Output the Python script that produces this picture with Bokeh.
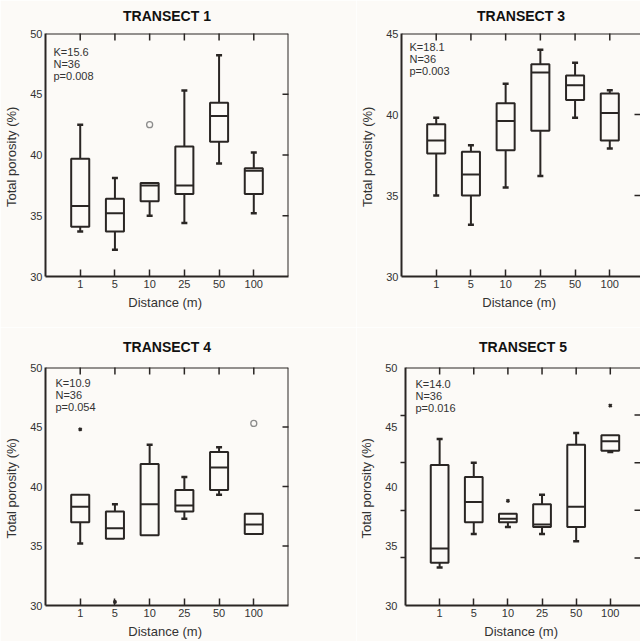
import math
from bokeh.plotting import figure
from bokeh.models import Range1d, FixedTicker, Label, Title, Span
from bokeh.layouts import column, row
from bokeh.embed import file_html
from bokeh.resources import INLINE

distances = ["1", "5", "10", "25", "50", "100"]

# Transect 1
t1_low = [33.7, 32.2, 35.0, 34.4, 39.3, 35.2]
t1_q1 = [34.1, 33.7, 36.2, 36.8, 41.1, 36.8]
t1_med = [35.8, 35.2, 37.5, 37.5, 43.2, 38.7]
t1_q3 = [39.7, 36.4, 37.7, 40.7, 44.3, 38.9]
t1_high = [42.5, 38.1, 37.7, 45.3, 48.2, 40.2]
t1_out_cat = ["10"]
t1_out_val = [42.5]
t1_far_cat = []
t1_far_val = []
t1_stats = ["K=15.6", "N=36", "p=0.008"]

# Transect 3
t3_low = [35.0, 33.2, 35.5, 36.2, 39.8, 37.9]
t3_q1 = [37.6, 35.0, 37.8, 39.0, 40.9, 38.4]
t3_med = [38.4, 36.3, 39.6, 42.6, 41.8, 40.1]
t3_q3 = [39.4, 37.7, 40.7, 43.1, 42.4, 41.3]
t3_high = [39.8, 38.1, 41.9, 44.0, 43.2, 41.5]
t3_out_cat = []
t3_out_val = []
t3_far_cat = []
t3_far_val = []
t3_stats = ["K=18.1", "N=36", "p=0.003"]

# Transect 4
t4_low = [35.2, 35.6, 35.9, 37.3, 39.3, 36.0]
t4_q1 = [37.0, 35.6, 35.9, 37.9, 39.7, 36.0]
t4_med = [38.3, 36.5, 38.5, 38.4, 41.6, 36.8]
t4_q3 = [39.3, 37.9, 41.9, 39.7, 42.9, 37.7]
t4_high = [39.3, 38.5, 43.5, 40.8, 43.3, 37.7]
t4_out_cat = ["100"]
t4_out_val = [45.3]
t4_far_cat = ["1", "5"]
t4_far_val = [44.8, 30.3]
t4_stats = ["K=10.9", "N=36", "p=0.054"]

# Transect 5
t5_low = [33.2, 36.0, 36.6, 36.0, 35.4, 42.9]
t5_q1 = [33.6, 37.0, 37.0, 36.6, 36.6, 43.0]
t5_med = [34.8, 38.7, 37.3, 36.8, 38.3, 43.8]
t5_q3 = [41.8, 40.8, 37.7, 38.5, 43.5, 44.3]
t5_high = [44.0, 42.0, 37.7, 39.3, 44.5, 44.3]
t5_out_cat = []
t5_out_val = []
t5_far_cat = ["10", "100"]
t5_far_val = [38.8, 46.8]
t5_stats = ["K=14.0", "N=36", "p=0.016"]

FONT = "Liberation Sans"
INK = "#2a2624"
TXT = "#333333"
BG = "#fcfaf7"

LEFT_W, RIGHT_W = 356, 284
TOP_H, BOT_H = 327, 314
B_LEFT = 45
FRAME_W = 243
PX_PER_UNIT = FRAME_W / 7.0


def make(title, low, q1, med, q3, high, out_cat, out_val, far_cat, far_val,
         stats, y_end, y_ticks, right_ticks, is_left, is_top, stat_dx, stat_dy,
         odd_ticks=None):
    width = LEFT_W if is_left else RIGHT_W
    height = TOP_H if is_top else BOT_H
    b_right = width - B_LEFT - FRAME_W if is_left else 0
    frame_w = width - B_LEFT - b_right
    x_end = frame_w / PX_PER_UNIT
    b_top = 33 if is_top else 40
    b_bottom = 51 if is_top else 33

    p = figure(width=width, height=height, output_backend="svg", toolbar_location=None,
               x_range=Range1d(0, x_end), y_range=Range1d(30, y_end),
               min_border_left=B_LEFT, min_border_right=b_right,
               min_border_top=b_top, min_border_bottom=b_bottom,
               background_fill_color=BG, border_fill_color=BG)
    p.grid.visible = False
    p.outline_line_color = None
    # the reference panel title is centred over a 243 px frame
    title_shift = 0 if is_left else (FRAME_W - frame_w) / 2
    p.add_layout(Title(text=title, text_font=FONT, text_font_size="14px",
                       text_font_style="bold", align="center", text_color="#111111",
                       vertical_align="top", standoff=15 if is_top else 22,
                       offset=title_shift), "above")

    xpos = [distances.index(d) + 1 for d in distances]

    # axes
    xa = p.xaxis[0]
    xa.ticker = FixedTicker(ticks=xpos)
    xa.major_label_overrides = {i + 1: d for i, d in enumerate(distances)}
    xa.axis_label = "Distance  (m)"
    ya = p.yaxis[0]
    ya.axis_label = "Total porosity  (%)"
    if odd_ticks is not None:
        ya.ticker = FixedTicker(ticks=y_ticks, minor_ticks=odd_ticks)
        ya.minor_tick_out = 5
        ya.minor_tick_in = 0
        ya.minor_tick_line_color = INK
        ya.minor_tick_line_width = 1.5
    else:
        ya.ticker = FixedTicker(ticks=y_ticks)
        ya.minor_tick_line_color = None
    ya.major_tick_out = 0
    ya.major_tick_in = 0
    for ax in (xa, ya):
        ax.axis_line_color = INK
        ax.axis_line_width = 2
        ax.major_label_text_font = FONT
        ax.major_label_text_font_size = "11px"
        ax.major_label_text_color = TXT
        ax.axis_label_text_font = FONT
        ax.axis_label_text_font_size = "13px"
        ax.axis_label_text_font_style = "normal"
        ax.axis_label_text_color = TXT
    xa.major_tick_in = 7
    xa.major_tick_out = 0
    xa.major_tick_line_color = INK
    xa.major_tick_line_width = 1.5
    xa.minor_tick_line_color = None
    xa.major_label_standoff = 3
    xa.axis_label_standoff = 4
    ya.major_label_standoff = 3
    ya.axis_label_standoff = 8

    # frame top (and right for left-hand panels)
    p.add_layout(Span(location=y_end, dimension="width", line_color=INK, line_width=2))
    if is_left:
        p.add_layout(Span(location=x_end, dimension="height", line_color=INK, line_width=2))
    # inward ticks on top and right edges (half of each mark is clipped by the frame)
    p.scatter(x=xpos, y=[y_end] * len(xpos), marker="dash", angle=math.pi / 2, size=14,
              line_color=INK, line_width=1.5)
    if right_ticks:
        p.scatter(x=[x_end] * len(right_ticks), y=right_ticks, marker="dash", size=12,
                  line_color=INK, line_width=1.5)

    hw = 0.26
    # whiskers
    up_x = [x for x, a, b in zip(xpos, q3, high) if b > a]
    up_0 = [a for a, b in zip(q3, high) if b > a]
    up_1 = [b for a, b in zip(q3, high) if b > a]
    dn_x = [x for x, a, b in zip(xpos, q1, low) if b < a]
    dn_0 = [a for a, b in zip(q1, low) if b < a]
    dn_1 = [b for a, b in zip(q1, low) if b < a]
    p.segment(x0=up_x, y0=up_0, x1=up_x, y1=up_1, line_color=INK, line_width=2)
    p.segment(x0=dn_x, y0=dn_0, x1=dn_x, y1=dn_1, line_color=INK, line_width=2)
    p.scatter(x=up_x, y=up_1, marker="dash", size=6, line_color=INK, line_width=2.5)
    p.scatter(x=dn_x, y=dn_1, marker="dash", size=6, line_color=INK, line_width=2.5)
    # boxes
    p.quad(left=[x - hw for x in xpos], right=[x + hw for x in xpos], bottom=q1, top=q3,
           fill_color=None, line_color=INK, line_width=2)
    p.segment(x0=[x - hw for x in xpos], x1=[x + hw for x in xpos], y0=med, y1=med,
              line_color=INK, line_width=2)
    # outliers
    if out_cat:
        p.scatter(x=[distances.index(c) + 1 for c in out_cat], y=out_val, marker="circle",
                  size=6, fill_color=None, line_color="#8c8c8c", line_width=1.3)
    if far_cat:
        p.scatter(x=[distances.index(c) + 1 for c in far_cat], y=far_val, marker="x",
                  size=4, line_color=INK, line_width=2)

    for i, s in enumerate(stats):
        p.add_layout(Label(x=0, y=y_end, x_offset=stat_dx, y_offset=-(stat_dy + 12 * i),
                           text=s, text_font=FONT, text_font_size="11px",
                           text_color=TXT, text_baseline="middle"))
    return p


p1 = make("TRANSECT 1", t1_low, t1_q1, t1_med, t1_q3, t1_high, t1_out_cat, t1_out_val,
          t1_far_cat, t1_far_val, t1_stats, 50, [30, 35, 40, 45, 50], [35, 40, 45],
          True, True, 8, 18)
p3 = make("TRANSECT 3", t3_low, t3_q1, t3_med, t3_q3, t3_high, t3_out_cat, t3_out_val,
          t3_far_cat, t3_far_val, t3_stats, 45, [30, 35, 40, 45], [35, 40],
          False, True, 8, 13)
p4 = make("TRANSECT 4", t4_low, t4_q1, t4_med, t4_q3, t4_high, t4_out_cat, t4_out_val,
          t4_far_cat, t4_far_val, t4_stats, 50, [30, 35, 40, 45, 50], [35, 40, 45],
          True, False, 10, 15)
p5 = make("TRANSECT 5", t5_low, t5_q1, t5_med, t5_q3, t5_high, t5_out_cat, t5_out_val,
          t5_far_cat, t5_far_val, t5_stats, 50, [30, 35, 40, 45, 50], [34, 38, 42, 46],
          False, False, 10, 16, odd_ticks=[34, 38, 42, 46])

layout = column(row(p1, p3), row(p4, p5))
open("out.html", "w").write(file_html(layout, INLINE))
